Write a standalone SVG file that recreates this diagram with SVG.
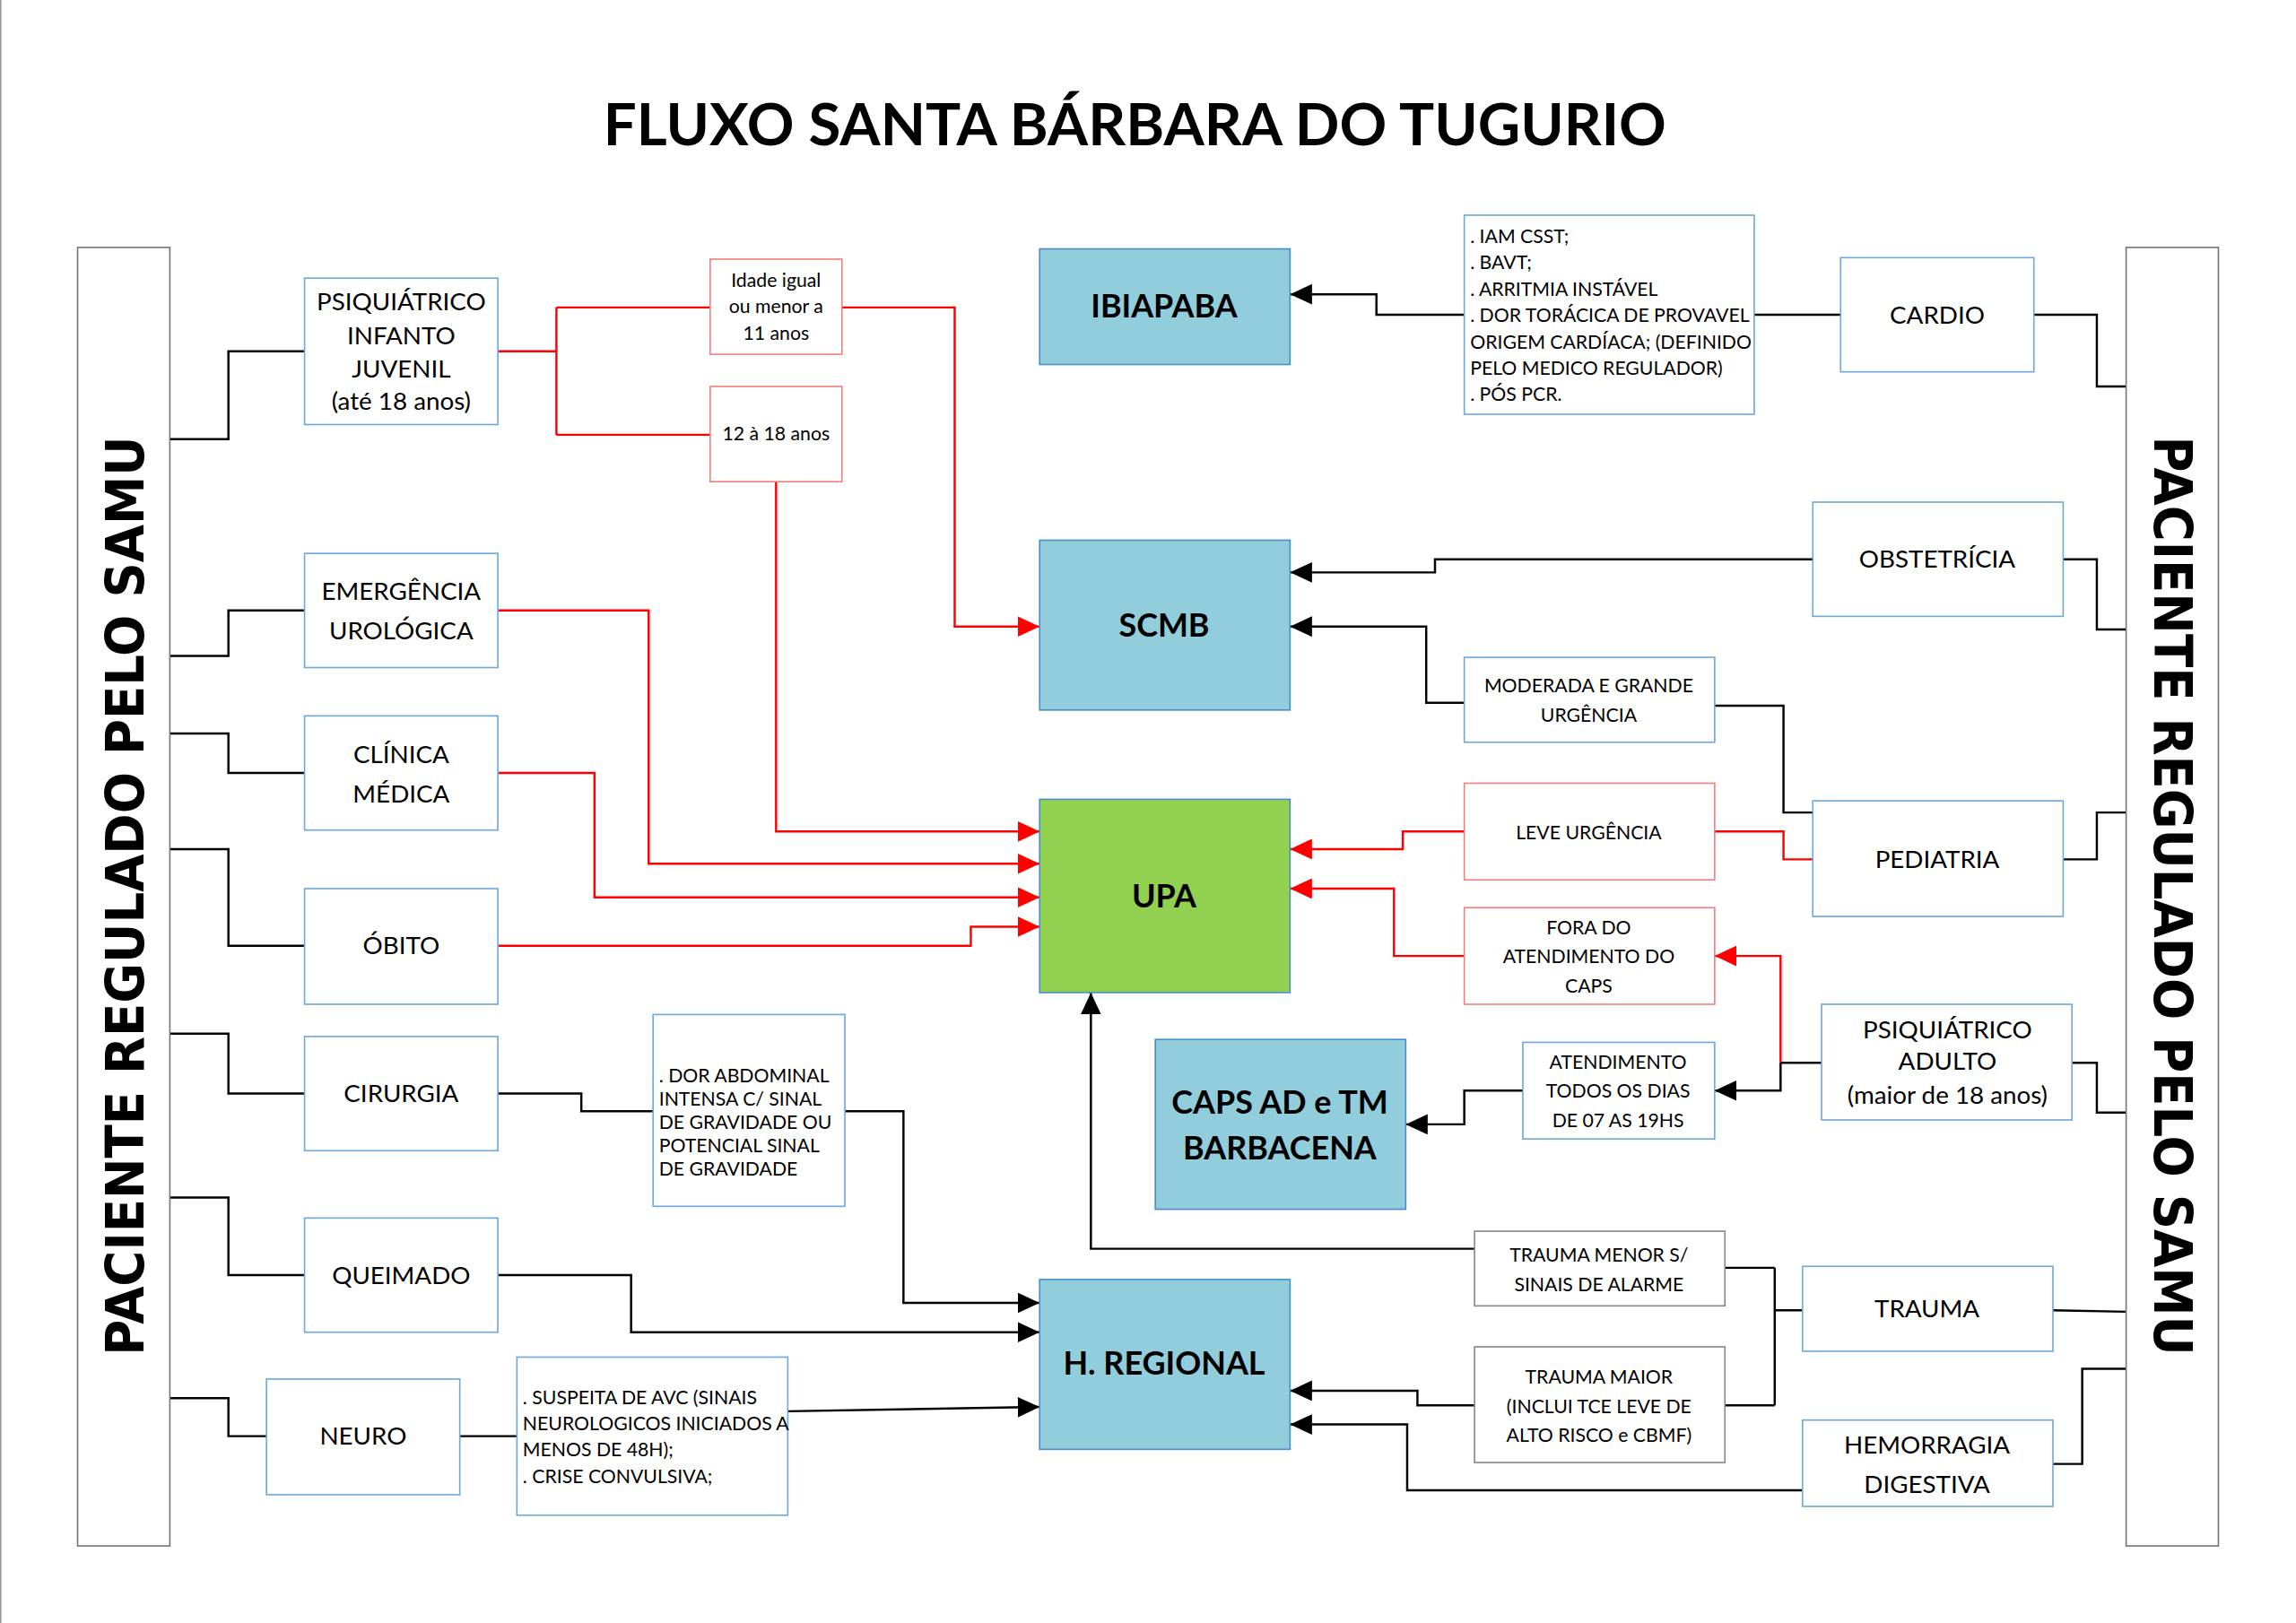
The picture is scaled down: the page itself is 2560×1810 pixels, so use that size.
<svg xmlns="http://www.w3.org/2000/svg" width="2560" height="1810" viewBox="0 0 2560 1810">
<style>
.b{fill:#fff;stroke:#6fa8dc;stroke-width:1}
.r{fill:#fff;stroke:#f08080;stroke-width:1}
.g{fill:#fff;stroke:#888;stroke-width:1}
.bar{fill:#fff;stroke:#777;stroke-width:1}
.h{fill:#92cddc;stroke:#4a90c8;stroke-width:1}
.u{fill:#92d050;stroke:#4a90c8;stroke-width:1}
text{font-family:Lato,"Open Sans",sans-serif;fill:#000}
.t{font-size:17px;text-anchor:middle}
.s{font-size:13px}
.sc{font-size:13px;text-anchor:middle}
.big{font-size:22px;font-weight:bold;text-anchor:middle}
.side{font-family:"DejaVu Sans",sans-serif;font-size:36px;font-weight:bold;text-anchor:middle}
.k{fill:none;stroke:#000;stroke-width:1.5}
.rd{fill:none;stroke:#f00;stroke-width:1.5}
</style>
<defs>
<marker id="ak" markerUnits="userSpaceOnUse" markerWidth="16" markerHeight="16" refX="15" refY="7" orient="auto"><path d="M0,0L15,7L0,14z" fill="#000"/></marker>
<marker id="ar" markerUnits="userSpaceOnUse" markerWidth="16" markerHeight="16" refX="15" refY="7" orient="auto"><path d="M0,0L15,7L0,14z" fill="#f00"/></marker>
</defs>
<rect x="0" y="0" width="2560" height="1810" fill="#fff"/>
<g transform="scale(1.63265)">
<line x1="0.5" y1="0" x2="0.5" y2="1109" stroke="#999"/>
<text x="775" y="99" font-family="Lato,'Open Sans',sans-serif" font-size="40" font-weight="bold" text-anchor="middle">FLUXO SANTA BÁRBARA DO TUGURIO</text>

<g id="connectors">
<path class="k" d="M116,300H156V240H208M116,448H156V417H208M116,501H156V528H208M116,580H156V646H208M116,706H156V747H208M116,818H156V871H208M116,955H156V981H182"/>
<path class="rd" d="M340,240H380M380,210V297M380,210H485M380,297H485"/>
<path class="rd" marker-end="url(#ar)" d="M575,210H652V428H710"/>
<path class="rd" marker-end="url(#ar)" d="M530,329V568H710"/>
<path class="rd" marker-end="url(#ar)" d="M340,417H443V590H710"/>
<path class="rd" marker-end="url(#ar)" d="M340,528H406V613H710"/>
<path class="rd" marker-end="url(#ar)" d="M340,646H663V633H710"/>
<path class="k" d="M340,747H397V759H446"/>
<path class="k" marker-end="url(#ak)" d="M577,759H617V890H710"/>
<path class="k" marker-end="url(#ak)" d="M340,871H431V910H710"/>
<path class="k" d="M314,981H353"/>
<path class="k" marker-end="url(#ak)" d="M538,964L710,961"/>
<path class="k" marker-end="url(#ak)" d="M1000,215H940V201H881"/>
<path class="k" d="M1257,215H1198M1389,215H1432V264H1452"/>
<path class="k" marker-end="url(#ak)" d="M1238,382H980V391H881"/>
<path class="k" d="M1409,382H1432V430H1452"/>
<path class="k" marker-end="url(#ak)" d="M1000,480H974V428H881"/>
<path class="k" d="M1171,482H1218V555H1238M1409,587H1432V555H1452"/>
<path class="rd" marker-end="url(#ar)" d="M1000,568H958V580H881"/>
<path class="rd" d="M1171,568H1218V587H1238"/>
<path class="rd" marker-end="url(#ar)" d="M1000,653H952V607H881"/>
<path class="k" d="M1244,726H1216"/>
<path class="rd" marker-end="url(#ar)" d="M1216,726V653H1171"/>
<path class="k" marker-end="url(#ak)" d="M1216,726V745H1171"/>
<path class="k" d="M1415,726H1432V760H1452"/>
<path class="k" marker-end="url(#ak)" d="M1040,745H1000V768H960"/>
<path class="k" marker-end="url(#ak)" d="M1007,853H745V678"/>
<path class="k" d="M1231,895H1212M1212,866V960M1212,866H1178M1212,960H1178M1402,895L1452,896"/>
<path class="k" marker-end="url(#ak)" d="M1007,960H968V950H881"/>
<path class="k" marker-end="url(#ak)" d="M1231,1018H961V973H881"/>
<path class="k" d="M1402,1000H1422V935H1452"/>
</g>

<g id="left-bar"><rect class="bar" x="53" y="169" width="63" height="887"/><text class="side" transform="translate(98,612) rotate(-90)" textLength="628" lengthAdjust="spacingAndGlyphs">PACIENTE REGULADO PELO SAMU</text></g>
<g id="right-bar"><rect class="bar" x="1452" y="169" width="63" height="887"/><text class="side" transform="translate(1471,612) rotate(90)" textLength="628" lengthAdjust="spacingAndGlyphs">PACIENTE REGULADO PELO SAMU</text></g>

<g id="psiq-inf"><rect class="b" x="208" y="190" width="132" height="100"/><text class="t" x="274" y="212">PSIQUIÁTRICO</text><text class="t" x="274" y="235">INFANTO</text><text class="t" x="274" y="258">JUVENIL</text><text class="t" x="274" y="280">(até 18 anos)</text></g>
<g id="idade"><rect class="r" x="485" y="177" width="90" height="65"/><text class="sc" x="530" y="196">Idade igual</text><text class="sc" x="530" y="214">ou menor a</text><text class="sc" x="530" y="232">11 anos</text></g>
<g id="idade2"><rect class="r" x="485" y="264" width="90" height="65"/><text class="sc" x="530" y="301">12 à 18 anos</text></g>
<g id="urol"><rect class="b" x="208" y="378" width="132" height="78"/><text class="t" x="274" y="410">EMERGÊNCIA</text><text class="t" x="274" y="437">UROLÓGICA</text></g>
<g id="clinica"><rect class="b" x="208" y="489" width="132" height="78"/><text class="t" x="274" y="521">CLÍNICA</text><text class="t" x="274" y="548">MÉDICA</text></g>
<g id="obito"><rect class="b" x="208" y="607" width="132" height="79"/><text class="t" x="274" y="652">ÓBITO</text></g>
<g id="cirurgia"><rect class="b" x="208" y="708" width="132" height="78"/><text class="t" x="274" y="753">CIRURGIA</text></g>
<g id="queimado"><rect class="b" x="208" y="832" width="132" height="78"/><text class="t" x="274" y="877">QUEIMADO</text></g>
<g id="neuro"><rect class="b" x="182" y="942" width="132" height="79"/><text class="t" x="248" y="987">NEURO</text></g>
<g id="dor"><rect class="b" x="446" y="693" width="131" height="131"/><text class="s" x="450" y="739">. DOR ABDOMINAL</text><text class="s" x="450" y="755">INTENSA C/ SINAL</text><text class="s" x="450" y="771">DE GRAVIDADE OU</text><text class="s" x="450" y="787">POTENCIAL SINAL</text><text class="s" x="450" y="803">DE GRAVIDADE</text></g>
<g id="avc"><rect class="b" x="353" y="927" width="185" height="108"/><text class="s" x="357" y="959">. SUSPEITA DE AVC  (SINAIS</text><text class="s" x="357" y="977">NEUROLOGICOS INICIADOS A</text><text class="s" x="357" y="995">MENOS DE 48H);</text><text class="s" x="357" y="1013">. CRISE CONVULSIVA;</text></g>
<g id="ibiapaba"><rect class="h" x="710" y="170" width="171" height="79"/><text class="big" x="795" y="217">IBIAPABA</text></g>
<g id="scmb"><rect class="h" x="710" y="369" width="171" height="116"/><text class="big" x="795" y="435">SCMB</text></g>
<g id="upa"><rect class="u" x="710" y="546" width="171" height="132"/><text class="big" x="795" y="620">UPA</text></g>
<g id="caps"><rect class="h" x="789" y="710" width="171" height="116"/><text class="big" x="874" y="761">CAPS AD e TM</text><text class="big" x="874" y="792">BARBACENA</text></g>
<g id="hregional"><rect class="h" x="710" y="874" width="171" height="116"/><text class="big" x="795" y="939">H. REGIONAL</text></g>
<g id="iam"><rect class="b" x="1000" y="147" width="198" height="136"/><text class="s" x="1004" y="166">.  IAM CSST;</text><text class="s" x="1004" y="184">.  BAVT;</text><text class="s" x="1004" y="202">.  ARRITMIA INSTÁVEL</text><text class="s" x="1004" y="220">. DOR TORÁCICA DE PROVAVEL</text><text class="s" x="1004" y="238">ORIGEM CARDÍACA; (DEFINIDO</text><text class="s" x="1004" y="256">PELO MEDICO REGULADOR)</text><text class="s" x="1004" y="274">. PÓS PCR.</text></g>
<g id="cardio"><rect class="b" x="1257" y="176" width="132" height="78"/><text class="t" x="1323" y="221">CARDIO</text></g>
<g id="obst"><rect class="b" x="1238" y="343" width="171" height="78"/><text class="t" x="1323" y="388">OBSTETRÍCIA</text></g>
<g id="moderada"><rect class="b" x="1000" y="449" width="171" height="58"/><text class="sc" x="1085" y="473" font-size="14">MODERADA E GRANDE</text><text class="sc" x="1085" y="493" font-size="14">URGÊNCIA</text></g>
<g id="leve"><rect class="r" x="1000" y="535" width="171" height="66"/><text class="sc" x="1085" y="573" font-size="14">LEVE URGÊNCIA</text></g>
<g id="pediatria"><rect class="b" x="1238" y="547" width="171" height="79"/><text class="t" x="1323" y="593">PEDIATRIA</text></g>
<g id="fora"><rect class="r" x="1000" y="620" width="171" height="66"/><text class="sc" x="1085" y="638" font-size="14">FORA DO</text><text class="sc" x="1085" y="658" font-size="14">ATENDIMENTO DO</text><text class="sc" x="1085" y="678" font-size="14">CAPS</text></g>
<g id="atendimento"><rect class="b" x="1040" y="712" width="131" height="66"/><text class="sc" x="1105" y="730" font-size="14">ATENDIMENTO</text><text class="sc" x="1105" y="750" font-size="14">TODOS OS DIAS</text><text class="sc" x="1105" y="770" font-size="14">DE 07 AS 19HS</text></g>
<g id="psiq-adulto"><rect class="b" x="1244" y="686" width="171" height="79"/><text class="t" x="1330" y="709" font-size="16">PSIQUIÁTRICO</text><text class="t" x="1330" y="731" font-size="16">ADULTO</text><text class="t" x="1330" y="754" font-size="16">(maior de 18 anos)</text></g>
<g id="trauma-menor"><rect class="g" x="1007" y="841" width="171" height="51"/><text class="sc" x="1092" y="862" font-size="14">TRAUMA MENOR S/</text><text class="sc" x="1092" y="882" font-size="14">SINAIS DE ALARME</text></g>
<g id="trauma"><rect class="b" x="1231" y="865" width="171" height="58"/><text class="t" x="1316" y="900">TRAUMA</text></g>
<g id="trauma-maior"><rect class="g" x="1007" y="920" width="171" height="79"/><text class="sc" x="1092" y="945" font-size="14">TRAUMA MAIOR</text><text class="sc" x="1092" y="965" font-size="14">(INCLUI TCE LEVE DE</text><text class="sc" x="1092" y="985" font-size="14">ALTO RISCO e CBMF)</text></g>
<g id="hemorragia"><rect class="b" x="1231" y="970" width="171" height="59"/><text class="t" x="1316" y="993">HEMORRAGIA</text><text class="t" x="1316" y="1020">DIGESTIVA</text></g>
</g>
</svg>
